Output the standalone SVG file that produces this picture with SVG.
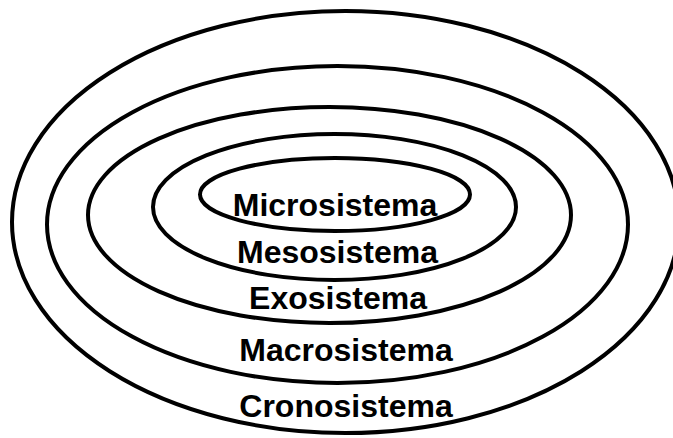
<svg xmlns="http://www.w3.org/2000/svg" width="673" height="438" viewBox="0 0 673 438">
<style>
.ring{fill:none;stroke:#000;stroke-width:4}
.lbl{font-family:"Liberation Sans",Arial,sans-serif;font-weight:bold;font-size:32px;fill:#000;text-anchor:middle}
</style>
<rect width="673" height="438" fill="#fff"/>
<g id="connectors"></g>
<g id="cronosistema">
<ellipse class="ring" cx="345.5" cy="222" rx="333.5" ry="211"/>
<text class="lbl" x="346" y="417">Cronosistema</text>
</g>
<g id="macrosistema">
<ellipse class="ring" cx="337.5" cy="224.5" rx="290.5" ry="158.5"/>
<text class="lbl" x="346" y="361">Macrosistema</text>
</g>
<g id="exosistema">
<ellipse class="ring" cx="329.5" cy="215" rx="241.5" ry="108"/>
<text class="lbl" x="338" y="309">Exosistema</text>
</g>
<g id="mesosistema">
<ellipse class="ring" cx="334.5" cy="207" rx="181.5" ry="73"/>
<text class="lbl" x="337.5" y="263">Mesosistema</text>
</g>
<g id="microsistema">
<ellipse class="ring" cx="335" cy="194.5" rx="135" ry="36.5"/>
<text class="lbl" x="335" y="216">Microsistema</text>
</g>
</svg>
